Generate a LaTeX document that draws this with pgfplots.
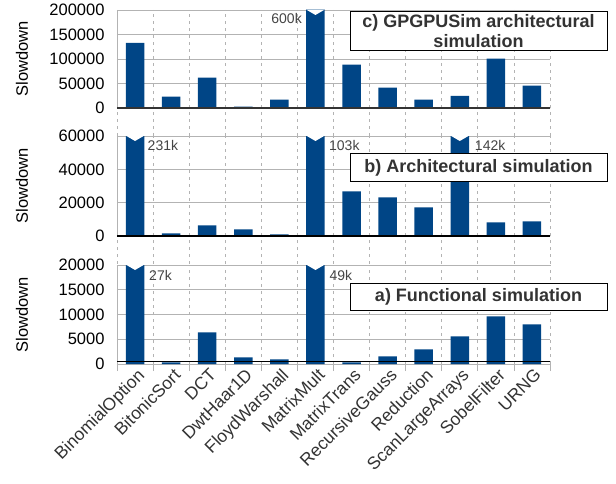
\documentclass[border=0pt]{standalone}
\usepackage{pgfplots}
\pgfplotsset{compat=1.18}
\usepackage{fontspec}
\setmainfont{Liberation Sans}
\definecolor{barblue}{HTML}{004586}
\definecolor{gridgray}{HTML}{B3B3B3}
\definecolor{txtgray}{HTML}{333333}
\definecolor{labgray}{HTML}{444444}

\pgfplotsset{
  panel/.style={
    scale only axis, width=433pt,
    xmin=-0.5, xmax=11.5, ymin=0,
    axis lines*=left,
    axis line style={gridgray, line width=0.8pt},
    tick align=outside,
    xtick={0,...,11}, xticklabels={},
    major tick length=0pt,
    minor xtick={-0.5,0.5,...,11.5},
    xminorgrids, ymajorgrids,
    minor x grid style={gridgray, dash pattern=on 3pt off 4pt, line width=0.8pt},
    major y grid style={gridgray, line width=0.8pt},
    every minor tick/.style={gridgray, dash pattern=on 3pt off 4pt, line width=0.8pt},
    minor tick length=28pt,
    scaled y ticks=false,
    /pgf/number format/assume math mode=true,
    /pgf/number format/fixed,
    /pgf/number format/precision=0,
    /pgf/number format/1000 sep={},
    yticklabel style={font=\fontsize{16.5}{16.5}\selectfont, text=black, xshift=-9pt},
    ylabel={Slowdown},
    every axis y label/.style={at={(axis description cs:-0.2194,0.5)}, rotate=90, anchor=center, font=\fontsize{16.5}{16.5}\selectfont},
    ybar, bar width=18.5pt, bar shift=0pt,
  },
}
\tikzset{
  lab/.style={font=\fontsize{14}{14}\selectfont, text=labgray, inner sep=0pt},
  titlebox/.style={draw=black, line width=1pt, fill=white, text=txtgray, font=\bfseries\fontsize{18}{20}\selectfont, align=center, minimum width=257pt, inner sep=0pt},
}
\newcommand{\notch}[2]{\fill[white] ([xshift=-9.6pt,yshift=0.6pt]axis cs:#1,#2) -- ([yshift=-5pt]axis cs:#1,#2) -- ([xshift=9.6pt,yshift=0.6pt]axis cs:#1,#2) -- cycle;}

\begin{document}
\begin{tikzpicture}
\useasboundingbox (0pt,0pt) rectangle (616pt,483pt);

% c) GPGPUSim architectural simulation
\begin{axis}[panel, at={(117pt,375pt)}, anchor=south west, height=98pt,
  ymax=200000, ytick={0,50000,100000,150000,200000}]
\addplot[fill=barblue, draw=none] coordinates {
 (0,133000) (1,23000) (2,62000) (3,3000) (4,17000) (5,600000)
 (6,88400) (7,41400) (8,17000) (9,24500) (10,100600) (11,45500)};
\notch{5}{200000}
\draw[txtgray, line width=1.4pt] (axis cs:-0.5,0) -- (axis cs:11.5,0);
\node[lab, anchor=north east] at ([xshift=-13.5pt,yshift=-3pt]axis cs:5,200000) {600k};
\end{axis}

% b) Architectural simulation
\begin{axis}[panel, at={(117pt,247pt)}, anchor=south west, height=100pt,
  ymax=60000, ytick={0,20000,40000,60000}]
\addplot[fill=barblue, draw=none] coordinates {
 (0,231000) (1,1600) (2,6400) (3,4000) (4,1000) (5,103000)
 (6,26800) (7,23200) (8,17200) (9,142000) (10,8200) (11,8800)};
\notch{0}{60000}
\notch{5}{60000}
\notch{9}{60000}
\draw[black, line width=1.6pt] (axis cs:-0.5,0) -- (axis cs:11.5,0);
\node[lab, anchor=north west] at ([xshift=12.5pt,yshift=-4pt]axis cs:0,60000) {231k};
\node[lab, anchor=north west] at ([xshift=13.5pt,yshift=-4pt]axis cs:5,60000) {103k};
\node[lab, anchor=north west] at ([xshift=15pt,yshift=-4pt]axis cs:9,60000) {142k};
\end{axis}

% a) Functional simulation
\begin{axis}[panel, at={(117pt,119pt)}, anchor=south west, height=99pt,
  ymax=20000, ytick={0,5000,10000,15000,20000},
  minor tick length=7pt,
  every minor tick/.style={gridgray, solid, line width=0.8pt},
  xticklabels={BinomialOption,BitonicSort,DCT,DwtHaar1D,FloydWarshall,MatrixMult,MatrixTrans,RecursiveGauss,Reduction,ScanLargeArrays,SobelFilter,URNG},
  xticklabel style={rotate=45, anchor=north east, font=\fontsize{17.5}{17.5}\selectfont, text=txtgray, xshift=2pt}]
\addplot[fill=barblue, draw=none] coordinates {
 (0,27000) (1,350) (2,6400) (3,1350) (4,950) (5,49000)
 (6,350) (7,1550) (8,2970) (9,5600) (10,9640) (11,8020)};
\notch{0}{20000}
\notch{5}{20000}
\draw[black, line width=1.3pt] (axis cs:-0.5,520) -- (axis cs:11.5,520);
\node[lab, anchor=north west] at ([xshift=14pt,yshift=-5pt]axis cs:0,20000) {27k};
\node[lab, anchor=north west] at ([xshift=14pt,yshift=-5pt]axis cs:5,20000) {49k};
\end{axis}

\node[titlebox, minimum height=39pt] at (478.5pt,451.5pt) {c) GPGPUSim architectural\\simulation};
\node[titlebox, minimum height=27pt] at (478.5pt,315.5pt) {b) Architectural simulation};
\node[titlebox, minimum height=27pt] at (478.5pt,186.5pt) {a) Functional simulation};
\end{tikzpicture}
\end{document}
